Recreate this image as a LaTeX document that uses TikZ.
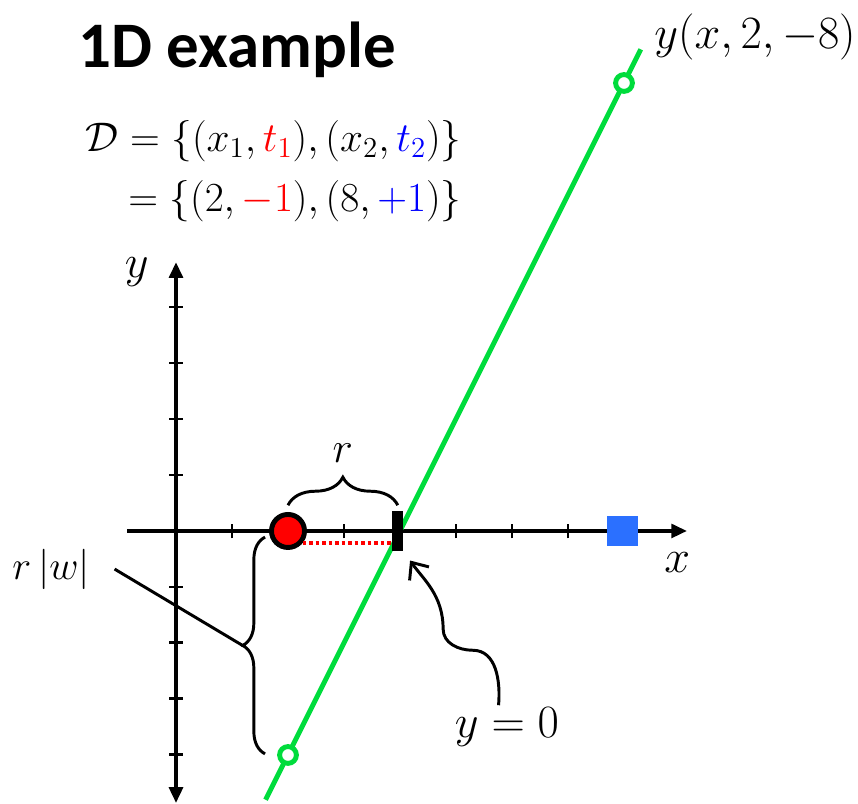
\RequirePackage{fix-cm}
\documentclass[tikz,border=0pt]{standalone}
\usepackage{amsmath, amssymb}
\usepackage[no-math]{fontspec}
\newfontfamily\titlefont{Carlito}
\usetikzlibrary{arrows.meta,calc,decorations.pathreplacing}
\definecolor{lineGreen}{RGB}{0,220,60}
\definecolor{pointBlue}{RGB}{43,112,255}

\begin{document}
\begin{tikzpicture}[x=1cm, y=1cm,
    lbl/.style={font=\fontsize{23.5}{28}\selectfont, inner sep=1pt},
    axtick/.style={line width=1.5pt},
    rbrace/.style={decorate, decoration={brace, amplitude=#1}, line width=1.5pt},
    gpoint/.style={circle, draw=lineGreen, fill=white, line width=2.5pt,
                   minimum size=0.30cm, inner sep=0pt}]
    \useasboundingbox (-3.143,-4.875) rectangle (12.179,9.482);

    % title and data set
    \node[font=\titlefont\bfseries\fontsize{33}{40}\selectfont] (title) at (1.09,8.59) {1D example};
    \node[anchor=east, align=right, inner sep=1pt, font=\fontsize{21}{30.5}\selectfont] (data) at (5.14,6.43)
        {$\mathcal{D} = \{(x_1,{\color{red}t_1}),(x_2,{\color{blue}t_2})\}$\\
         $= \{(2,{\color{red}-1}),(8,{\color{blue}+1})\}$};

    % axes
    \draw[line width=1.8pt, -{Triangle[length=8pt,width=7pt]}] (-0.875,0) -- (9.125,0);
    \draw[line width=1.8pt, {Triangle[length=8pt,width=7pt]}-{Triangle[length=8pt,width=7pt]}]
        (0,-4.857) -- (0,4.8);
    \foreach \i in {1,...,8}
        \draw[axtick] (\i,-0.13) -- (\i,0.13);
    \foreach \j in {-4,...,-1,1,2,3,4}
        \draw[axtick] (-0.12,\j) -- (0.12,\j);
    \node[lbl] (xlbl) at (8.95,-0.57) {$x$};
    \node[lbl] (ylbl) at (-0.70,4.63) {$y$};

    % the line y = 2x - 8
    \draw[lineGreen, line width=2.5pt, domain=1.6:8.3, samples=2, variable=\t]
        plot ({\t}, {2*\t-8});
    \node[lbl] (linelbl) at (10.34,8.82) {$y(x,2,-8)$};
    \node[gpoint] (gA) at (2,-4) {};
    \node[gpoint] (gB) at (8,8) {};

    % data points and boundary
    \node[fill=black, minimum width=0.196cm, minimum height=0.714cm, inner sep=0pt] (bar) at (3.96,0) {};
    \node[circle, draw, fill=red, line width=2.5pt, minimum size=0.59cm, inner sep=0pt] (ptA) at (2,0) {};
    \node[fill=pointBlue, minimum size=0.55cm, inner sep=0pt] (ptB) at (7.98,0) {};
    \draw[red, line width=2pt, dash pattern=on 1.8pt off 1.5pt]
        (ptA.-39) -- (ptA.-39 -| bar.west);

    % distance r
    \draw[rbrace=0.5cm] ($(ptA)+(0,0.46)$) -- ($(bar)+(0,0.46)$)
        node[lbl, midway, above=0.7cm, font=\fontsize{22}{26}\selectfont] (rlbl) {$r$};

    % distance r|w|
    \coordinate (lb1) at ($(gA)+(-0.41,0.02)$);
    \coordinate (lb2) at ($(ptA)+(-0.41,-0.11)$);
    \draw[rbrace=0.4cm] (lb1) -- (lb2);
    \coordinate (bt) at ($(lb1)!0.5!(lb2)+(-0.4,0)$);
    \node[lbl, font=\fontsize{20.5}{25}\selectfont] (rw) at (-2.23,-0.68) {$r\,|w|$};
    \draw[line width=1.5pt] ([xshift=0.4cm]rw.east) -- (bt);

    % where y = 0
    \node[lbl] (yzero) at (5.91,-3.5) {$y = 0$};
    \draw[line width=1.5pt, shorten >=0.2cm, -{Straight Barb[length=7pt,width=12pt]}]
        ([xshift=-0.15cm]yzero.north) to[out=85,in=0] (5.3,-2.13)
        to[out=180,in=-90] (4.77,-1.75) to[out=90,in=-55] (bar.south east);
\end{tikzpicture}
\end{document}
